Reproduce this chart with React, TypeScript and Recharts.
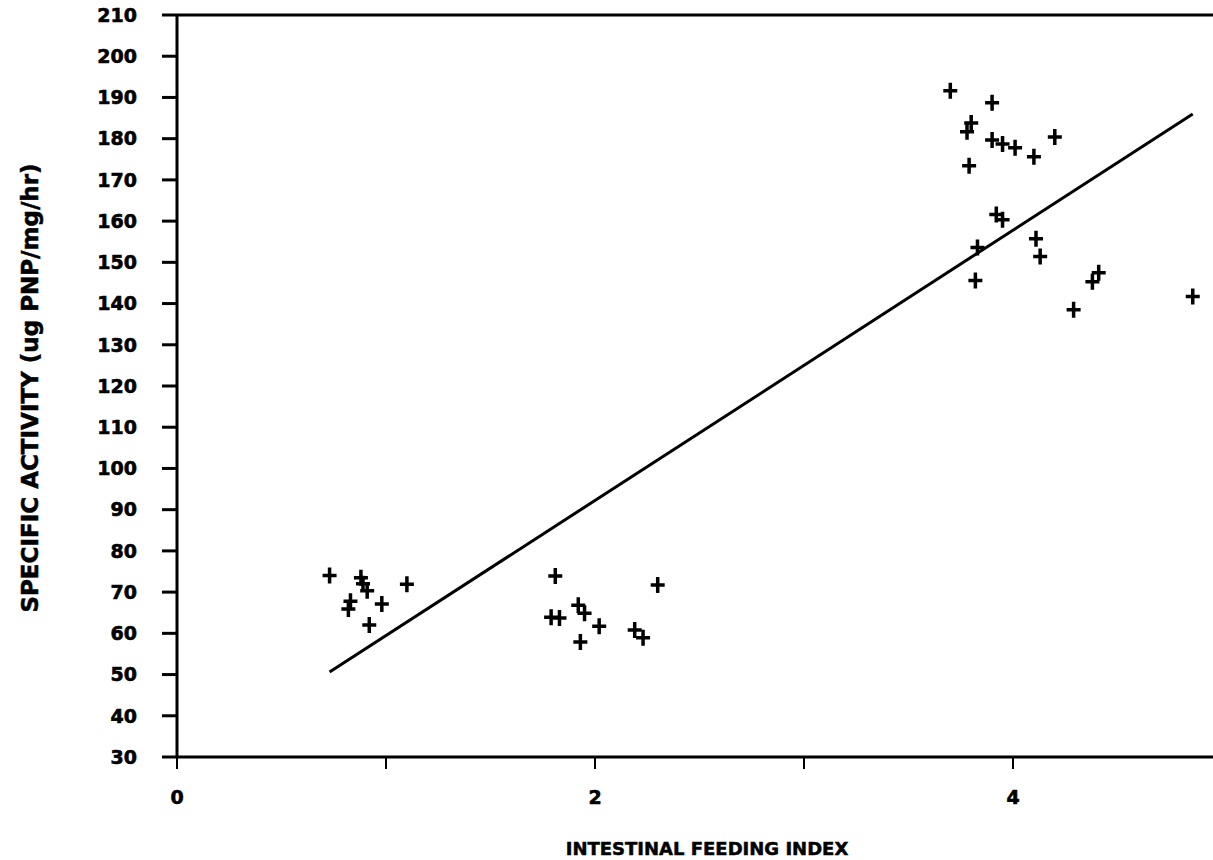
import { CartesianGrid, ReferenceLine, Scatter, ScatterChart, XAxis, YAxis } from "recharts";

// intestinal feeding index vs specific activity
const feedingIndex = [
  0.73, 0.88, 0.89, 0.91, 1.1, 0.83, 0.82, 0.98, 0.92,
  1.81, 2.3, 1.92, 1.95, 1.79, 1.83, 2.02, 1.93, 2.19, 2.23,
  3.7, 3.9, 3.8, 3.78, 3.9, 3.95, 4.01, 4.1, 4.2, 3.79,
  3.92, 3.95, 3.83, 3.82, 4.11, 4.13, 4.29, 4.38, 4.41, 4.86,
];
const specificActivity = [
  74, 73.5, 72, 70.3, 71.9, 67.8, 65.9, 67.1, 62,
  73.9, 71.7, 66.8, 64.9, 63.9, 63.7, 61.7, 57.9, 60.8, 58.9,
  191.6, 188.7, 183.8, 181.7, 179.7, 178.7, 177.8, 175.6, 180.4, 173.4,
  161.6, 160.3, 153.6, 145.6, 155.7, 151.4, 138.5, 145.3, 147.5, 141.7,
];

// least-squares line, drawn over the data range
const fitX = [0.73, 4.86];
const fitY = [50.6, 186.0];

const xTicks = [0, 1, 2, 3, 4, 5];
const yTicks = [30, 40, 50, 60, 70, 80, 90, 100, 110, 120, 130, 140, 150, 160, 170, 180, 190, 200, 210];

const points = feedingIndex.map((x, i) => ({ x, y: specificActivity[i] }));
const fit = fitX.map((x, i) => ({ x, y: fitY[i] }));

const font = "'DejaVu Sans', sans-serif";
// the scan's lettering is very heavy, a thin stroke fattens DejaVu Bold a bit
const tickStyle = {
  fill: "#000", stroke: "#000", strokeWidth: 0.6,
  fontSize: 19, fontWeight: 700, fontFamily: font,
};
const titleStyle = {
  position: "absolute" as const, whiteSpace: "nowrap" as const,
  fontFamily: font, fontWeight: 700, WebkitTextStroke: "0.5px #000",
};

function Plus({ cx, cy }: { cx?: number; cy?: number }) {
  if (cx == null || cy == null) return null;
  return (
    <path
      d={`M${cx - 7},${cy}H${cx + 7}M${cx},${cy - 8}V${cy + 8}`}
      stroke="#000"
      strokeWidth={3.5}
      fill="none"
    />
  );
}

const Nothing = () => null;

export default function App() {
  return (
    <div style={{ position: "fixed", left: 0, top: 0, width: 1213, height: 860, overflow: "hidden", background: "#fff" }}>
      <ScatterChart width={1240} height={860} margin={{ top: 15, right: 18, bottom: 0, left: 0 }}>
        <CartesianGrid stroke="none" />
        <XAxis
          type="number"
          dataKey="x"
          domain={[0, 5]}
          ticks={xTicks}
          tickFormatter={(v: number) => (v % 2 === 0 ? String(v) : "")}
          height={103}
          tick={tickStyle}
          tickSize={12}
          tickMargin={22}
          axisLine={{ stroke: "#000", strokeWidth: 3 }}
          tickLine={{ stroke: "#000", strokeWidth: 2 }}
        />
        <YAxis
          type="number"
          dataKey="y"
          domain={[30, 210]}
          ticks={yTicks}
          width={177}
          tick={tickStyle}
          tickSize={15}
          tickMargin={25}
          axisLine={{ stroke: "#000", strokeWidth: 3 }}
          tickLine={{ stroke: "#000", strokeWidth: 3 }}
        />
        <ReferenceLine y={210} stroke="#000" strokeWidth={3} />
        <Scatter
          data={fit}
          line={{ stroke: "#000", strokeWidth: 3 }}
          shape={Nothing}
          isAnimationActive={false}
        />
        <Scatter data={points} shape={Plus} isAnimationActive={false} />
      </ScatterChart>
      <div style={{ ...titleStyle, left: 707, top: 848, transform: "translate(-50%, -50%)", fontSize: 18 }}>
        INTESTINAL FEEDING INDEX
      </div>
      <div style={{ ...titleStyle, left: 30, top: 388, transform: "translate(-50%, -50%) rotate(-90deg)", fontSize: 23 }}>
        SPECIFIC ACTIVITY (ug PNP/mg/hr)
      </div>
    </div>
  );
}
